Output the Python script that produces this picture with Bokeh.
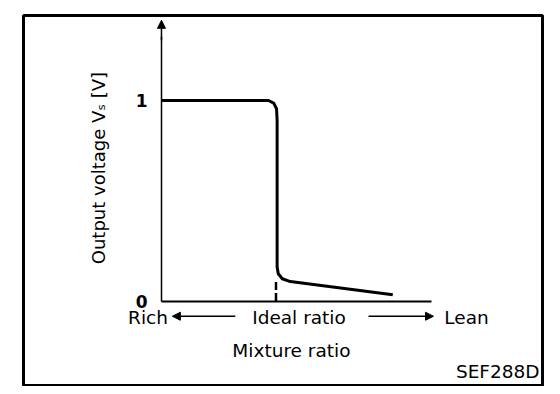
import math
from bokeh.plotting import figure
from bokeh.models import Range1d, LinearAxis, FixedTicker, Arrow, NormalHead, Label
from bokeh.embed import file_html
from bokeh.resources import INLINE

# ---- data ----
mixture_ratio = [0.80, 0.90, 0.987, 0.996, 1.001, 1.002, 1.002, 1.004, 1.011, 1.025, 1.204]
output_voltage = [1.00, 1.00, 1.00, 0.987, 0.959, 0.90, 0.169, 0.136, 0.111, 0.097, 0.031]
ideal_ratio = [1.0]
ideal_marker_top = [0.11]
y_ticks = [0, 1]
axis_origin = [0.8]
ratio_labels = ["Rich", "Ideal ratio", "Lean"]
x_title = "Mixture ratio"
y_title = "Output voltage Vₛ [V]"
figure_code = "SEF288D"

FONT = "DejaVu Sans"

p = figure(width=552, height=386, output_backend="svg", toolbar_location=None,
           x_range=Range1d(0.559, 1.4655), y_range=Range1d(-0.4214, 1.424),
           x_axis_location=None, y_axis_location=None,
           min_border_left=23, min_border_right=10, min_border_top=15, min_border_bottom=1)
for g in p.grid:
    g.visible = False
p.outline_line_color = "black"
p.outline_line_width = 3
p.background_fill_color = "white"
p.border_fill_color = "white"

x0 = axis_origin[0]

yaxis = LinearAxis(fixed_location=x0, bounds=(0, 1.32), ticker=FixedTicker(ticks=y_ticks),
                   major_tick_line_color=None, minor_tick_line_color=None,
                   major_tick_out=0, minor_tick_out=0, major_tick_in=0, minor_tick_in=0,
                   axis_line_width=1.5, axis_line_color="black",
                   major_label_standoff=14, major_label_text_font=FONT,
                   major_label_text_font_style="bold", major_label_text_font_size="17px",
                   major_label_text_baseline="alphabetic",
                   major_label_text_color="black")
p.add_layout(yaxis, "left")

xaxis = LinearAxis(fixed_location=0, bounds=(x0, 1.272), ticker=FixedTicker(ticks=[]),
                   major_tick_line_color=None, minor_tick_line_color=None,
                   major_tick_out=0, minor_tick_out=0, major_tick_in=0, minor_tick_in=0,
                   major_label_text_font_size="0px",
                   axis_line_width=2, axis_line_color="black")
p.add_layout(xaxis, "below")

# arrow head on y axis
p.add_layout(Arrow(end=NormalHead(size=8, fill_color="black", line_color="black", line_width=1),
                   x_start=x0, y_start=1.30, x_end=x0, y_end=1.40,
                   line_width=1.5, line_color="black"))

# curve
p.line(mixture_ratio, output_voltage, line_width=3, line_color="black", line_join="round")

# dashed marker at ideal ratio
p.segment(x0=ideal_ratio, y0=[0], x1=ideal_ratio, y1=ideal_marker_top,
          line_width=2.5, line_color="black", line_dash="8 3")

# row of labels under the axis
row_y = -0.08
for txt, xx in zip(ratio_labels, [0.7764, 1.0402, 1.3328]):
    p.add_layout(Label(x=xx, y=row_y, text=txt, text_align="center", text_baseline="middle",
                       text_font=FONT, text_font_size="18.5px", text_color="black"))

p.add_layout(Arrow(end=NormalHead(size=8, fill_color="black", line_color="black", line_width=1),
                   x_start=0.929, y_start=row_y + 0.004, x_end=0.819, y_end=row_y + 0.004,
                   line_width=1.5, line_color="black"))
p.add_layout(Arrow(end=NormalHead(size=8, fill_color="black", line_color="black", line_width=1),
                   x_start=1.1616, y_start=row_y + 0.004, x_end=1.2751, y_end=row_y + 0.004,
                   line_width=1.5, line_color="black"))

p.add_layout(Label(x=1.027, y=-0.2444, text=x_title, text_align="center", text_baseline="middle",
                   text_font=FONT, text_font_size="18.5px", text_color="black"))

p.add_layout(Label(x=0.6908, y=0.663, text=y_title, angle=math.pi / 2,
                   text_align="center", text_baseline="middle",
                   text_font=FONT, text_font_size="18px", text_color="black"))

p.add_layout(Label(x=1.4603, y=-0.354, text=figure_code, text_align="right", text_baseline="middle",
                   text_font=FONT, text_font_size="18.5px", text_color="black"))

open("out.html", "w").write(file_html(p, INLINE))
